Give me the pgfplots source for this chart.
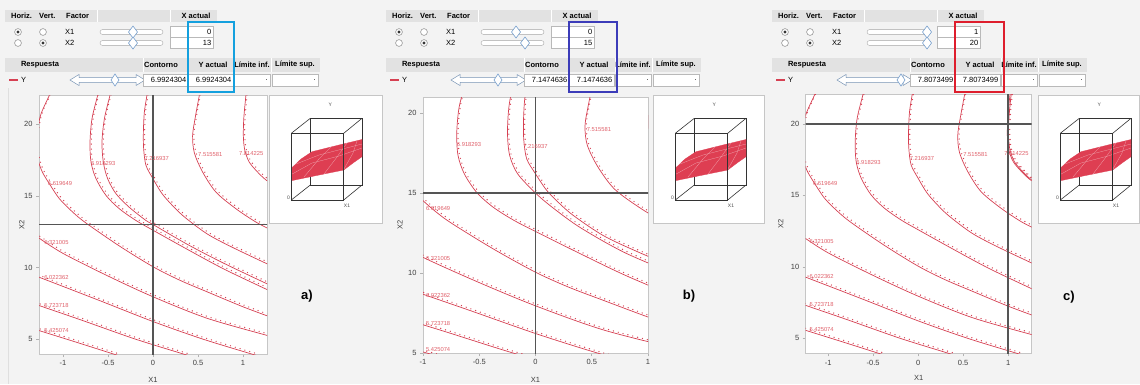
\documentclass[border=0pt]{standalone}
\usepackage{pgfplots}
\pgfplotsset{compat=1.18}
\usepackage{fontspec}
\setmainfont{Liberation Sans}
\definecolor{bg}{RGB}{243,243,243}
\definecolor{hdr}{RGB}{226,226,226}
\definecolor{cl}{RGB}{214,64,82}
\definecolor{clab}{RGB}{224,96,106}
\definecolor{boxc}{RGB}{185,185,185}
\definecolor{thumbc}{RGB}{120,160,205}
\definecolor{hlA}{RGB}{20,160,222}
\definecolor{hlB}{RGB}{60,60,185}
\definecolor{hlC}{RGB}{222,30,45}
\definecolor{cross}{RGB}{85,85,85}
\definecolor{surf}{RGB}{222,62,82}
\newcommand{\nf}{\fontsize{7.5}{9}\selectfont}
\newcommand{\hf}{\fontsize{7.5}{9}\selectfont\bfseries}
\newcommand{\lf}{\fontsize{5.8}{6}\selectfont}

\tikzset{clab/.style={font=\lf, text=clab, anchor=west, inner sep=0pt}}
\pgfplotsset{
 cline/.style={color=cl, line width=0.7pt, smooth, tension=0.5, no marks},
 cdots/.style={color=cl, line width=1.35pt, smooth, tension=0.5, no marks, dash pattern=on 0pt off 5pt, line cap=round, xshift=1.3pt, yshift=1.5pt},
 cplot/.style={anchor=north west, scale only axis, axis background/.style={fill=white},
  axis line style={draw=gray!45, line width=0.9pt},
  xtick={-1,-0.5,0,0.5,1}, xticklabels={-1,-0.5,0,0.5,1},
  ytick={5,10,15,20}, yticklabels={5,10,15,20},
  tick pos=left, tick align=outside, major tick length=3pt,
  tick style={gray!60, line width=0.6pt},
  ticklabel style={font=\nf, text=black!75},
  xlabel={X1}, ylabel={X2},
  label style={font=\nf, text=black!75},
  clip=true},
 crossl/.style={color=cross, line width=1.4pt}
}

\newcommand{\cc}[1]{\addplot[cline] coordinates {#1}; \addplot[cdots] coordinates {#1};}

\newcommand{\levels}{%
 \cc{(-1.32,5.70) (-1.267,5.59) (-0.85,4.77) (-0.44,3.95) (-0.38,3.83)}
 \cc{(-1.32,7.45) (-1.267,7.34) (-0.8,6.33) (-0.2,5.0) (0.337,3.95) (0.4,3.82)}
 \cc{(-1.32,9.45) (-1.267,9.32) (-0.6,7.7) (0,6.22) (0.55,5.0) (1.096,3.95) (1.15,3.85)}
 \cc{(-1.32,12.25) (-1.267,12.05) (-1.0,10.98) (-0.5,9.4) (0,7.95) (0.6,6.45) (1.267,5.25) (1.32,5.15)}
 \cc{(-1.14,22.3) (-1.152,22.03) (-1.244,20.74) (-1.285,19.6) (-1.295,18.7) (-1.28,17.6) (-1.233,16.71) (-1.152,15.85) (-1.04,14.8) (-0.893,13.87) (-0.744,13.1) (-0.374,11.5) (0,10.05) (0.3,9.1) (0.6,8.3) (1.0,7.25) (1.32,6.5)}
 \cc{(-0.61,22.3) (-0.615,22.03) (-0.678,20.4) (-0.70,18.76) (-0.689,17.36) (-0.633,16.2) (-0.522,15.03) (-0.374,14.1) (-0.189,13.28) (0,12.6) (0.4,11.2) (0.8,9.85) (1.32,8.3)}
 \cc{(-0.06,22.3) (-0.067,22.03) (-0.096,20.86) (-0.107,19.46) (-0.104,18.3) (-0.078,17.13) (0,16.2) (0.089,15.26) (0.18,14.57) (0.33,13.63) (0.6,12.35) (0.9,11.35) (1.32,10.1)}
 \cc{(0.52,22.3) (0.515,22.03) (0.47,20.5) (0.44,19.2) (0.46,18.0) (0.552,16.66) (0.7,15.26) (0.922,14.1) (1.144,13.17) (1.32,12.6)}
 \cc{(1.04,22.3) (1.033,22.03) (1.01,20.5) (1.004,19.2) (1.02,18.2) (1.07,17.36) (1.163,16.66) (1.248,16.15) (1.32,15.85)}
}

\newcommand{\labelsAC}{%
 \node[clab] at (axis cs:-1.21,5.62) {5.425074};
 \node[clab] at (axis cs:-1.21,7.37) {5.723718};
 \node[clab] at (axis cs:-1.21,9.30) {6.022362};
 \node[clab] at (axis cs:-1.21,11.75) {6.321005};
 \node[clab] at (axis cs:-1.17,15.85) {6.619649};
 \node[clab] at (axis cs:-0.69,17.29) {6.918293};
 \node[clab] at (axis cs:-0.095,17.6) {7.216937};
 \node[clab] at (axis cs:0.50,17.88) {7.515581};
 \node[clab] at (axis cs:0.955,17.95) {7.814225};
}

\newcommand{\header}[9]{%
\begin{scope}[shift={(#1,0)}]
 \fill[hdr] (5,-10) rectangle (217,-22);
 \draw[white, line width=0.8pt] (97,-10)--(97,-22) (170,-10)--(170,-22);
 \node[font=\hf, anchor=west, inner sep=0] at (11,-16) {Horiz.};
 \node[font=\hf, anchor=west, inner sep=0] at (39,-16) {Vert.};
 \node[font=\hf, anchor=west, inner sep=0] at (66,-16) {Factor};
 \node[font=\hf, inner sep=0] at (196,-16) {X actual};
 \draw[gray, fill=white, line width=0.5pt] (18,-32) circle (3.4) (43,-32) circle (3.4) (18,-43) circle (3.4) (43,-43) circle (3.4);
 \fill[black!80] (18,-32) circle (1.7) (43,-43) circle (1.7);
 \node[font=\nf, anchor=west, inner sep=0] at (65,-32) {X1};
 \node[font=\nf, anchor=west, inner sep=0] at (65,-43) {X2};
 \draw[gray!70, fill=white, rounded corners=2.4pt] (100,-29.6) rectangle (163,-34.4) (100,-40.6) rectangle (163,-45.4);
 \draw[thumbc, fill=white, line width=0.6pt] (#4-4.5,-32)--(#4,-26)--(#4+4.5,-32)--(#4,-38)--cycle;
 \draw[thumbc, fill=white, line width=0.6pt] (#5-4.5,-43)--(#5,-37)--(#5+4.5,-43)--(#5,-49)--cycle;
 \draw[boxc, fill=white] (170,-26.5) rectangle (213,-37.5) (170,-37.5) rectangle (213,-48.5);
 \node[font=\nf, anchor=east, inner sep=0] at (211.5,-32) {#2};
 \node[font=\nf, anchor=east, inner sep=0] at (211.5,-43) {#3};
 \fill[hdr] (5,-58) rectangle (320,-72);
 \draw[white, line width=0.8pt] (143,-58)--(143,-72) (188,-58)--(188,-72) (234,-58)--(234,-72) (271,-58)--(271,-72);
 \node[font=\hf, inner sep=0] at (40,-65) {Respuesta};
 \node[font=\hf, inner sep=0] at (161,-65) {Contorno};
 \node[font=\hf, inner sep=0] at (213,-65) {Y actual};
 \node[font=\hf, inner sep=0] at (252,-65) {Límite inf.};
 \node[font=\hf, inner sep=0] at (295,-65) {Límite sup.};
 \draw[cl, line width=1.1pt] (9,-80)--(18,-80);
 \node[font=\nf, anchor=west, inner sep=0] at (21,-80) {Y};
 \draw[thumbc!70!gray, fill=white, line width=0.5pt] (79,-74.5)--(70,-80)--(79,-85.5)--(79,-82.4)--(136,-82.4)--(136,-85.5)--(145,-80)--(136,-74.5)--(136,-77.6)--(79,-77.6)--cycle;
 \draw[thumbc, fill=white, line width=0.6pt] (#6-4,-80)--(#6,-74)--(#6+4,-80)--(#6,-86)--cycle;
 \draw[boxc, fill=white] (143,-74) rectangle (188,-86) (188,-74) rectangle (233,-86) (234,-74) rectangle (270,-86) (272,-74) rectangle (318,-86);
 \node[font=\nf, anchor=east, inner sep=0] at (186.5,-80) {#7};
 \node[font=\nf, anchor=east, inner sep=0] at (231.5,-80) {#7};
 \node[font=\nf, anchor=east, inner sep=0] at (268,-80) {.};
 \node[font=\nf, anchor=east, inner sep=0] at (316,-80) {.};
 \draw[#8, line width=2.4pt] (188,-22) rectangle (#9,-92);
\end{scope}}

\newcommand{\thumb}[2]{%
 \draw[gray!45, fill=white, line width=0.8pt] (#1,-95) rectangle (#1+#2,-223);
 \begin{axis}[at={(#1pt,-95pt)}, anchor=north west, width=#2pt, height=128pt, scale only axis, hide axis,
   xmin=0, xmax=#2, ymin=0, ymax=128, y dir=reverse, clip=false]
  \addplot[black!80, line width=0.6pt] coordinates {(41.3,23.3) (93,23.3) (93,90) (41.3,90) (41.3,23.3)};
  \addplot[black!80, line width=0.6pt] coordinates {(22.3,38.3) (41.3,23.3)};
  \addplot[black!80, line width=0.6pt] coordinates {(74.7,38.3) (93,23.3)};
  \addplot[black!80, line width=0.6pt] coordinates {(74.7,105) (93,90)};
  \addplot[black!80, line width=0.6pt] coordinates {(22.3,105) (41.3,90)};
  \addplot[fill=surf, draw=surf, line width=0.3pt] coordinates {(22.3,85.7) (22.3,73.3) (32,64) (43,56.7) (70,50) (93,44.5) (93,61.7) (84,68) (74.7,75) (50,80) (22.3,85.7)};
  \addplot[white!55!surf, line width=0.25pt] coordinates {(22.3,79.5) (43,68) (70,61) (93,53)};
  \addplot[white!55!surf, line width=0.25pt] coordinates {(27,69) (50,60) (93,49)};
  \addplot[white!55!surf, line width=0.25pt] coordinates {(35,82) (50,64) (62,52)};
  \addplot[white!55!surf, line width=0.25pt] coordinates {(55,79) (68,62) (78,48)};
  \addplot[white!55!surf, line width=0.25pt] coordinates {(75,74) (84,58) (88,46)};
  \addplot[black!80, line width=0.6pt] coordinates {(22.3,38.3) (74.7,38.3) (74.7,105) (22.3,105) (22.3,38.3)};
  \node[font=\fontsize{5}{6}\selectfont, text=black!70] at (axis cs:61.3,10) {Y};
  \node[font=\fontsize{5}{6}\selectfont, text=black!70] at (axis cs:19.5,103) {0};
  \node[font=\fontsize{5}{6}\selectfont, text=black!70] at (axis cs:78,111) {X1};
 \end{axis}}

\begin{document}
\begin{tikzpicture}[x=1pt,y=1pt]
\useasboundingbox (0,0) rectangle (1140,-384);
\fill[bg] (0,0) rectangle (1140,-384);
\draw[gray!25] (8,-88) -- (8,-384);

\header{0}{0}{13}{133}{133}{115}{6.9924304}{hlA}{234}
\header{381}{0}{15}{135}{144}{117}{7.1474636}{hlB}{236}
\header{767}{1}{20}{160}{160}{134}{7.8073499}{hlC}{237}

\thumb{269}{113}
\thumb{653}{111}
\thumb{1038}{101}

% panel a
\begin{axis}[cplot, at={(39pt,-95pt)}, width=228pt, height=259pt,
  xmin=-1.267, xmax=1.267, ymin=3.95, ymax=22.05,
  xlabel style={at={(axis description cs:0.5,-0.1)}, anchor=center},
  ylabel style={at={(axis description cs:-0.076,0.5)}, anchor=center}]
 \levels
 \cc{(-0.47,22.3) (-0.478,22.03) (-0.54,20.4) (-0.567,18.76) (-0.552,17.36) (-0.504,16.2) (-0.411,15.15) (-0.263,14.2) (-0.078,13.28) (0,13.0) (0.4,11.55) (0.8,10.25) (1.32,8.7)}
 \addplot[crossl] coordinates {(0,3) (0,23)};
 \addplot[crossl] coordinates {(-1.5,13) (1.5,13)};
 \labelsAC
\end{axis}

% panel b
\begin{axis}[cplot, at={(423pt,-97pt)}, width=225pt, height=256pt,
  xmin=-1, xmax=1, ymin=5, ymax=21,
  xlabel style={at={(axis description cs:0.5,-0.105)}, anchor=center},
  ylabel style={at={(axis description cs:-0.102,0.5)}, anchor=center}]
 \levels
 \cc{(-0.19,22.3) (-0.194,22.03) (-0.236,20.4) (-0.249,18.76) (-0.23,17.36) (-0.159,16.2) (0,15.0) (0.15,14.1) (0.4,12.83) (0.8,11.25) (1.32,9.7)}
 \addplot[crossl] coordinates {(0,3) (0,23)};
 \addplot[crossl] coordinates {(-1.5,15) (1.5,15)};
 \node[clab] at (axis cs:-0.975,5.22) {5.425074};
 \node[clab] at (axis cs:-0.975,6.85) {5.723718};
 \node[clab] at (axis cs:-0.975,8.62) {6.022362};
 \node[clab] at (axis cs:-0.975,10.9) {6.321005};
 \node[clab] at (axis cs:-0.975,14.05) {6.619649};
 \node[clab] at (axis cs:-0.70,18.03) {6.918293};
 \node[clab] at (axis cs:-0.11,17.88) {7.216937};
 \node[clab] at (axis cs:0.455,18.98) {7.515581};
\end{axis}

% panel c
\begin{axis}[cplot, at={(805.7pt,-94.3pt)}, width=226pt, height=259pt,
  xmin=-1.25, xmax=1.262, ymin=3.95, ymax=22.08,
  xlabel style={at={(axis description cs:0.5,-0.0965)}, anchor=center},
  ylabel style={at={(axis description cs:-0.11,0.5)}, anchor=center}]
 \levels
 \cc{(1.027,22.3) (1.02,22.03) (0.997,20.5) (0.991,19.2) (1.007,18.2) (1.057,17.36) (1.15,16.66) (1.235,16.15) (1.307,15.85)}
 \addplot[crossl] coordinates {(1,3) (1,23)};
 \addplot[crossl] coordinates {(-1.5,20) (1.5,20)};
 \labelsAC
\end{axis}

\node[font=\bfseries\fontsize{13}{15}\selectfont] at (307,-296) {a)};
\node[font=\bfseries\fontsize{13}{15}\selectfont] at (689,-296) {b)};
\node[font=\bfseries\fontsize{13}{15}\selectfont] at (1069,-297) {c)};
\end{tikzpicture}
\end{document}
